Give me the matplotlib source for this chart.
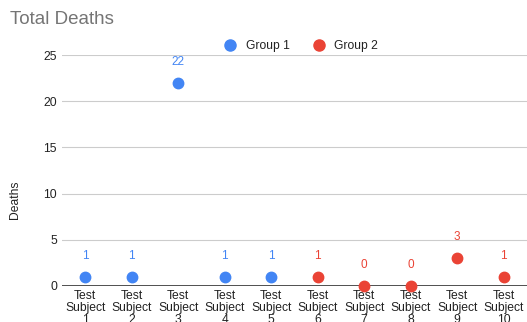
import matplotlib
matplotlib.use("Agg")
import matplotlib.pyplot as plt
from matplotlib.lines import Line2D

categories = ["Test\nSubject\n1", "Test\nSubject\n2", "Test\nSubject\n3", "Test\nSubject\n4",
              "Test\nSubject\n5", "Test\nSubject\n6", "Test\nSubject\n7", "Test\nSubject\n8",
              "Test\nSubject\n9", "Test\nSubject\n10"]
group1 = [1, 1, 22, 1, 1, None, None, None, None, None]
group2 = [None, None, None, None, None, 1, 0, 0, 3, 1]
yticks = [0, 5, 10, 15, 20, 25]

blue = "#4285F4"
red = "#EA4335"

plt.rcParams['font.family'] = ['Liberation Sans', 'DejaVu Sans']
fig = plt.figure(figsize=(5.27, 3.22), dpi=100)
ax = fig.add_axes([62/527, 36/322, 1 - 62/527, (286-55)/322])
ax.set_xlim(-0.5, 9.5)
ax.set_ylim(0, 25)

for series, color in ((group1, blue), (group2, red)):
    xs = [i for i, v in enumerate(series) if v is not None]
    ys = [v for v in series if v is not None]
    ax.plot(xs, ys, 'o', color=color, markersize=7.5, clip_on=False, zorder=5)
    for x, y in zip(xs, ys):
        ax.annotate(str(y), xy=(x, y), xytext=(0, 21), textcoords='offset pixels',
                    ha='center', va='center', color=color, fontsize=8.5,
                    arrowprops=dict(arrowstyle='-', color='#d0d0d0', lw=1.0,
                                    shrinkA=6, shrinkB=4))

ax.set_yticks(yticks)
ax.set_yticklabels([str(t) for t in yticks])
ax.set_xticks(range(len(categories)))
ax.set_xticklabels(categories, linespacing=0.98)
ax.tick_params(axis='both', length=0, labelsize=8.7, colors='#222222')
ax.tick_params(axis='y', pad=3.6)
ax.tick_params(axis='x', pad=3)
ax.grid(axis='y', color='#cccccc', lw=0.8)
ax.set_axisbelow(True)
for s in ax.spines.values():
    s.set_visible(False)
ax.axhline(0, color='#333333', lw=1.2, zorder=3)

fig.text(10/527, 1 - 19/322, "Total Deaths", fontsize=13.5, color='#757575', va='center', ha='left')
fig.text(15/527, 1 - 200/322, "Deaths", fontsize=8.7, color='#222222', rotation=90, va='center', ha='center')

handles = [Line2D([], [], marker='o', ls='', color=blue, markersize=8, label='Group 1'),
           Line2D([], [], marker='o', ls='', color=red, markersize=8, label='Group 2')]
fig.legend(handles=handles, loc='center', bbox_to_anchor=(298/527, 1 - 46/322), ncol=2,
           frameon=False, fontsize=8.7, handletextpad=0.3, columnspacing=1.4, labelcolor='#222222')

fig.savefig("out.png", dpi=100)
